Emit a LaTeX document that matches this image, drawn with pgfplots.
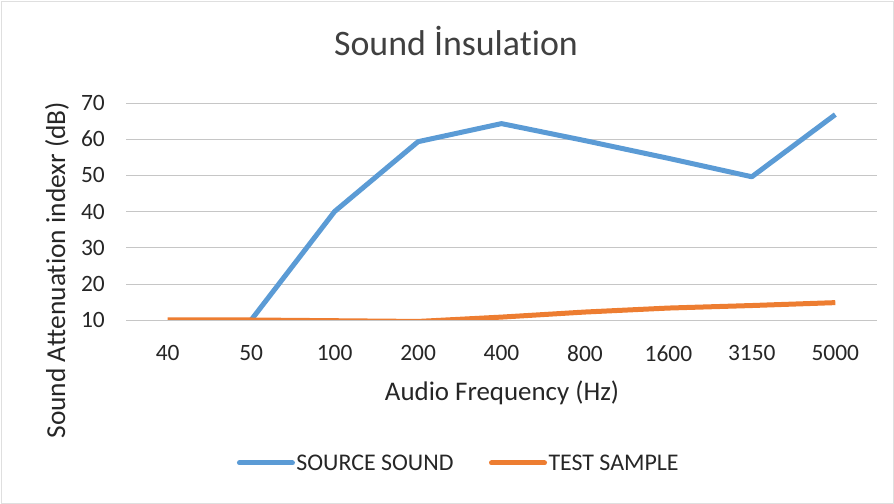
\documentclass[border=0pt]{standalone}
\usepackage{fontspec}
\setmainfont[Ligatures={CommonOff}]{Carlito}
\usepackage{pgfplots}
\pgfplotsset{compat=1.18}
\definecolor{srcblue}{RGB}{91,155,213}
\definecolor{tstorange}{RGB}{237,125,49}
\begin{document}
\begin{tikzpicture}[x=1bp,y=1bp]
\useasboundingbox (0,0) rectangle (894,504);
\draw[gray!25, line width=0.8bp] (1,1) rectangle (893,503);
\begin{axis}[
  at={(126bp,184bp)}, anchor=south west,
  scale only axis, width=751bp, height=217bp,
  xmin=-0.5, xmax=8.5, ymin=10, ymax=70,
  xtick={0,...,8},
  xticklabels={40,50,100,200,400,800,1600,3150,5000},
  ytick={10,20,...,70},
  axis line style={draw=none},
  tick style={draw=none},
  ymajorgrids, grid style={gray!45, line width=0.6bp},
  /pgf/number format/assume math mode=true,
  tick label style={font=\fontsize{23.5}{27}\selectfont, inner sep=0pt, text=black!85},
  yticklabel style={anchor=east, xshift=-21bp},
  xticklabel style={anchor=north, yshift=-25bp},
  title={Sound İnsulation},
  title style={at={(axis description cs:0.4394,1.258)}, anchor=center, font=\fontsize{36}{42}\selectfont, text=black!75},
  xlabel={Audio Frequency (Hz)},
  xlabel style={at={(axis description cs:0.5007,-0.336)}, anchor=center, font=\fontsize{27}{32}\selectfont, text=black!85},
  ylabel={Sound Attenuation indexr (dB)},
  ylabel style={at={(axis description cs:-0.0919,0.230)}, anchor=center, rotate=0, font=\fontsize{27.5}{32}\selectfont, text=black!85},
  legend columns=2,
  legend style={at={(axis description cs:0.4428,-0.659)}, anchor=center, draw=none, fill=none,
    font=\fontsize{24}{28}\selectfont, text=black!85, nodes={inner sep=1.5bp},
    /tikz/every even column/.append style={column sep=34bp}},
  legend image code/.code={\draw[#1, line width=5bp, line cap=round] (0bp,0bp) -- (53bp,0bp);},
]
\addplot[srcblue, line width=5bp, line join=round] coordinates {
  (1,10) (2,40) (3,59.3) (4,64.3) (5,59.6) (6,54.7) (7,49.6) (8,66.8)};
\addlegendentry{SOURCE SOUND}
\addplot[tstorange, line width=5bp, line join=round] coordinates {
  (0,10) (1,10) (2,9.8) (3,9.6) (4,10.8) (5,12.2) (6,13.3) (7,14) (8,14.8)};
\addlegendentry{TEST SAMPLE}
\end{axis}
\end{tikzpicture}
\end{document}
